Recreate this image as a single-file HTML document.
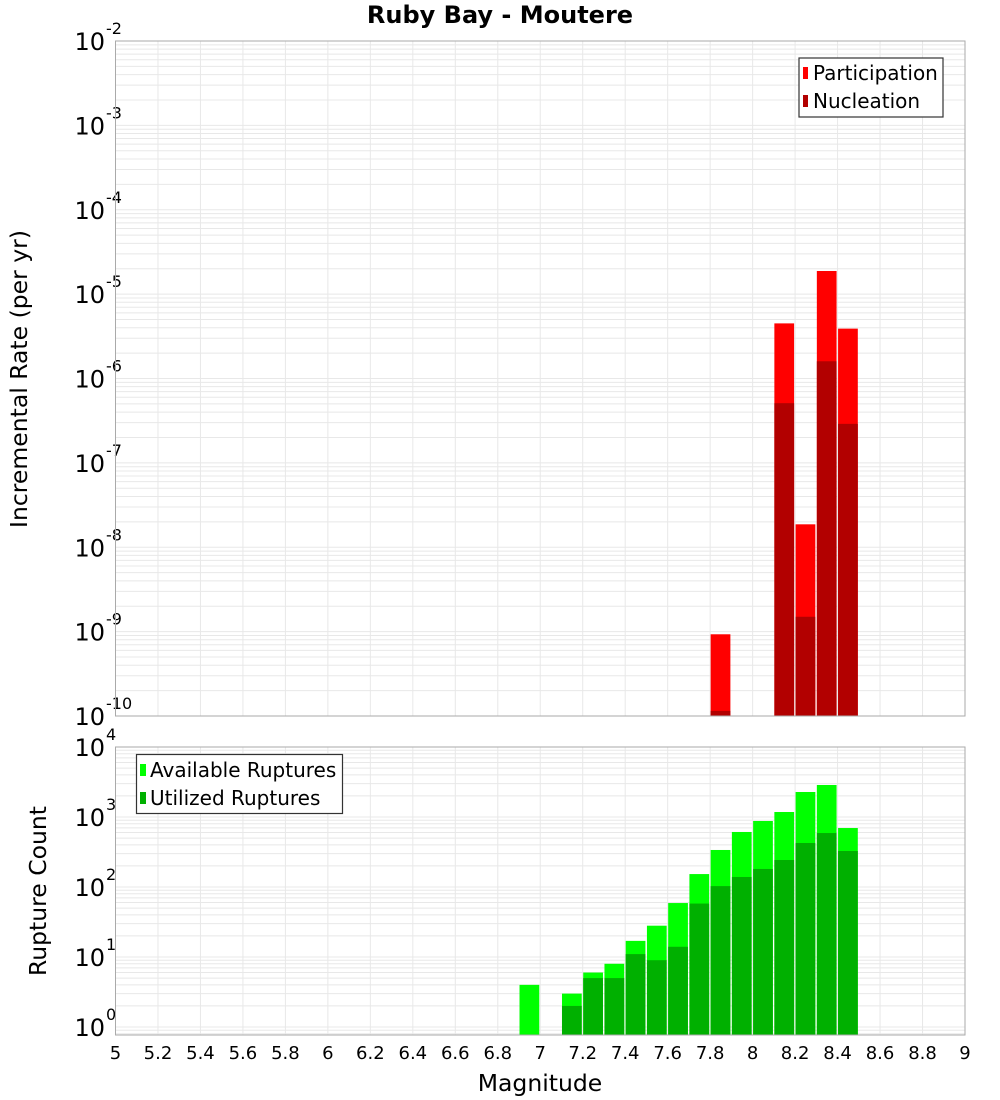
<!DOCTYPE html>
<html><head><meta charset="utf-8"><style>
html,body{margin:0;padding:0;background:#fff;}
svg{display:block;font-family:"DejaVu Sans","Liberation Sans",sans-serif;}
</style></head><body>
<svg id="chart" width="1000" height="1100" xmlns="http://www.w3.org/2000/svg">
<text x="500" y="23" text-anchor="middle" font-size="24" font-weight="bold">Ruby Bay - Moutere</text>
<g id="topPanel"></g>
<g id="botPanel"></g>
<text transform="translate(27,379) rotate(-90)" text-anchor="middle" font-size="23.5">Incremental Rate (per yr)</text>
<text transform="translate(46,891) rotate(-90)" text-anchor="middle" font-size="23.5">Rupture Count</text>
<text x="540" y="1091" text-anchor="middle" font-size="23.5">Magnitude</text>
<g>
<rect x="799" y="58" width="144" height="59" fill="#fff" stroke="#333" stroke-width="1.2"/>
<rect x="803" y="67" width="5" height="12" fill="#ff0000"/>
<text x="813" y="80" font-size="20">Participation</text>
<rect x="803" y="95" width="5" height="12" fill="#b20000"/>
<text x="813" y="108" font-size="20">Nucleation</text>
</g>
<g>
<rect x="136.5" y="754.5" width="206" height="59" fill="#fff" stroke="#333" stroke-width="1.2"/>
<rect x="140" y="764" width="6" height="12" fill="#00ff00"/>
<text x="150" y="777" font-size="20">Available Ruptures</text>
<rect x="140" y="792" width="6" height="12" fill="#00b000"/>
<text x="150" y="805" font-size="20">Utilized Ruptures</text>
</g>
</svg>
<script>
const rateMags = [7.85, 8.15, 8.25, 8.35, 8.45];
const participation = [9.3e-10, 4.5e-6, 1.87e-8, 1.88e-5, 3.9e-6];
const nucleation = [1.15e-10, 5.1e-7, 1.5e-9, 1.6e-6, 2.9e-7];
const countMags = [6.95, 7.15, 7.25, 7.35, 7.45, 7.55, 7.65, 7.75, 7.85, 7.95, 8.05, 8.15, 8.25, 8.35, 8.45];
const available = [4, 3, 6, 8, 17, 28, 59, 153, 338, 611, 877, 1179, 2276, 2866, 696];
const utilized = [0, 2, 5, 5, 11, 9, 14, 58, 103, 139, 181, 243, 425, 590, 327];
const xTicks = [5,5.2,5.4,5.6,5.8,6,6.2,6.4,6.6,6.8,7,7.2,7.4,7.6,7.8,8,8.2,8.4,8.6,8.8,9];
const rateExps = [-2,-3,-4,-5,-6,-7,-8,-9,-10];
const countExps = [4,3,2,1,0];

const NS='http://www.w3.org/2000/svg';
const PL=115.5, PR=965;
const xs=m=>PL+(m-5)*(PR-PL)/4;
const yTop=v=>41+(-2-Math.log10(v))*84.375;
const yBot=v=>747+(4-Math.log10(v))*70;
function mk(p,tag,a){const e=document.createElementNS(NS,tag);for(const k in a)e.setAttribute(k,a[k]);p.appendChild(e);return e;}
function panel(g,y0,y1,yf,exps,minExp,maxExp,name){
  const grid=mk(g,'g',{});
  
  
  for(let e=minExp;e<=maxExp;e++)for(let k=1;k<10;k++){const yy=yf(k*Math.pow(10,e));if(yy<y0||yy>y1)continue;mk(grid,'line',{x1:PL,x2:PR,y1:yy,y2:yy,stroke:'#e8e8e8','stroke-width':1});}
  xTicks.forEach(t=>mk(grid,'line',{x1:xs(t),x2:xs(t),y1:y0,y2:y1,stroke:'#e8e8e8','stroke-width':1}));
  exps.forEach(e=>{const yy=yf(Math.pow(10,e));const t=mk(g,'text',{x:105,y:yy+9,'text-anchor':'end','font-size':24});
    
    
    t.textContent='10';const s=mk(g,'text',{x:106,y:yy-7,'font-size':16});
    
    
    s.textContent=String(e);});
}
const topG=document.getElementById('topPanel'), botG=document.getElementById('botPanel');
panel(topG,41,716,yTop,rateExps,-10,-3,'rate');
panel(botG,747,1035,yBot,countExps,-1,3,'count');
const bw=(PR-PL)/40;
function bar(g,m,v,yf,base,color,name){if(!(v>0))return;const yv=Math.max(yf(v),0);const r=mk(g,'rect',{x:xs(m)-bw/2+0.5,y:yv,width:bw-1.5,height:Math.max(base-yv,0),fill:color});
  
  }
rateMags.forEach((m,i)=>{bar(topG,m,participation[i],yTop,716,'#ff0000','participation-bar');bar(topG,m,nucleation[i],yTop,716,'#b20000','nucleation-bar');});
countMags.forEach((m,i)=>{bar(botG,m,available[i],yBot,1035,'#00ff00','available-bar');bar(botG,m,utilized[i],yBot,1035,'#00b000','utilized-bar');});
mk(topG,'rect',{x:PL,y:41,width:PR-PL,height:675,fill:'none',stroke:'#aaa','stroke-width':1});
mk(botG,'rect',{x:PL,y:747,width:PR-PL,height:288,fill:'none',stroke:'#aaa','stroke-width':1});
xTicks.forEach(t=>{const e=mk(botG,'text',{x:xs(t),y:1059,'text-anchor':'middle','font-size':18});
  
  
  e.textContent=String(t);});
</script>
</body></html>
